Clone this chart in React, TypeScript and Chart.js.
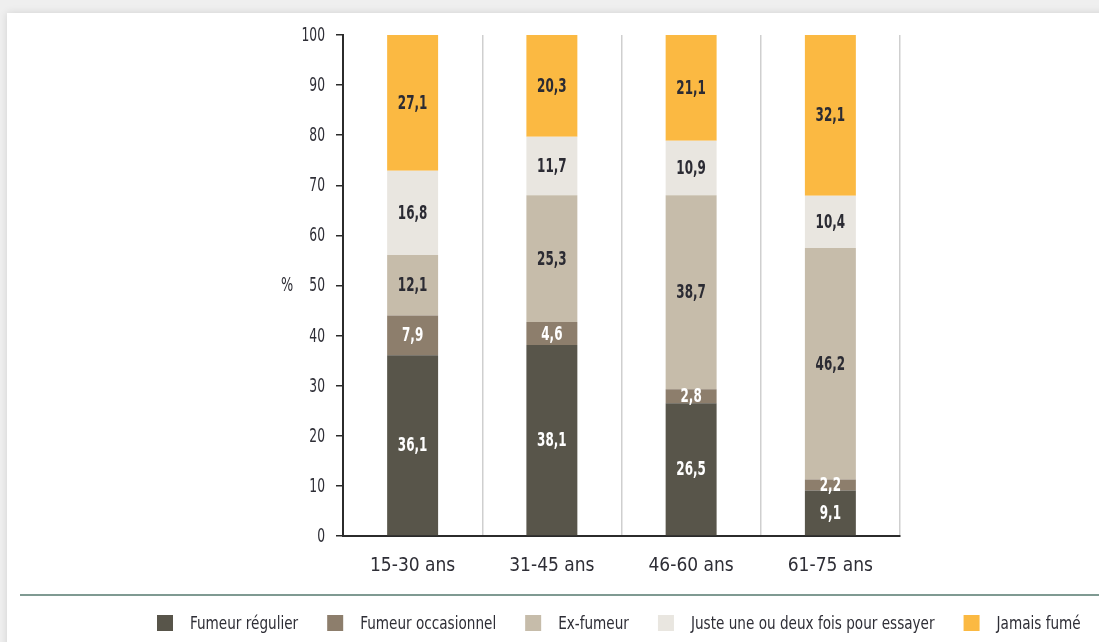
import { useEffect, useRef } from "react";
import { Chart, registerables } from "chart.js";

Chart.register(...registerables);

// Age groups on the x axis
const ageGroups = ["15-30 ans", "31-45 ans", "46-60 ans", "61-75 ans"];

// Share of each smoking status per age group (%)
const regularSmoker = [36.1, 38.1, 26.5, 9.1];
const occasionalSmoker = [7.9, 4.6, 2.8, 2.2];
const formerSmoker = [12.1, 25.3, 38.7, 46.2];
const triedOnceOrTwice = [16.8, 11.7, 10.9, 10.4];
const neverSmoked = [27.1, 20.3, 21.1, 32.1];

const seriesNames = [
  "Fumeur régulier",
  "Fumeur occasionnel",
  "Ex-fumeur",
  "Juste une ou deux fois pour essayer",
  "Jamais fumé",
];
const seriesColors = ["#58554a", "#8d7e6c", "#c6bcaa", "#e9e6e0", "#fbb942"];
const labelColors = ["#ffffff", "#ffffff", "#2b2b33", "#2b2b33", "#2b2b33"];

const yMin = 0;
const yMax = 100;
const yStep = 10;

const FONT = '"Liberation Sans Narrow", "DejaVu Sans Condensed", "Noto Sans", sans-serif';
const TEXT = "#2e2e36";

function drawSqueezed(
  ctx: CanvasRenderingContext2D,
  text: string,
  x: number,
  y: number,
  sx: number
) {
  ctx.save();
  ctx.translate(x, y);
  ctx.scale(sx, 1);
  ctx.fillText(text, 0, 0);
  ctx.restore();
}

const pageBackground = {
  id: "pageBackground",
  beforeDraw(chart: any) {
    const { ctx, width, height } = chart;
    ctx.save();
    ctx.fillStyle = "#efefef";
    ctx.fillRect(0, 0, width, height);
    ctx.shadowColor = "rgba(0,0,0,0.12)";
    ctx.shadowBlur = 8;
    ctx.fillStyle = "#ffffff";
    ctx.fillRect(7, 13, width + 20, height + 20);
    ctx.restore();
  },
};

// narrow, tall value-axis labels drawn at the scale's own tick positions
const valueAxisLabels = {
  id: "valueAxisLabels",
  afterDraw(chart: any) {
    const { ctx } = chart;
    const yScale = chart.scales.y;
    ctx.save();
    ctx.fillStyle = TEXT;
    ctx.font = `19px ${FONT}`;
    ctx.textAlign = "right";
    ctx.textBaseline = "middle";
    yScale.ticks.forEach((t: any) => {
      const py = yScale.getPixelForValue(t.value);
      drawSqueezed(ctx, String(t.value), yScale.right - 18, py + 1, 0.72);
    });
    ctx.restore();
  },
};

const barValues = {
  id: "barValues",
  afterDatasetsDraw(chart: any) {
    const { ctx } = chart;
    ctx.save();
    ctx.font = `bold 19px ${FONT}`;
    ctx.textAlign = "center";
    ctx.textBaseline = "middle";
    chart.data.datasets.forEach((ds: any, di: number) => {
      const meta = chart.getDatasetMeta(di);
      meta.data.forEach((bar: any, i: number) => {
        const v = ds.data[i] as number;
        const cy = (bar.y + bar.base) / 2;
        ctx.fillStyle = labelColors[di];
        drawSqueezed(ctx, v.toFixed(1).replace(".", ","), bar.x, cy + 1, 0.7);
      });
    });
    ctx.restore();
  },
};

const sideDecor = {
  id: "sideDecor",
  afterDraw(chart: any) {
    const { ctx, chartArea, width } = chart;
    const yScale = chart.scales.y;
    ctx.save();

    // "%" unit next to the value axis
    ctx.fillStyle = TEXT;
    ctx.font = `19px ${FONT}`;
    ctx.textAlign = "center";
    ctx.textBaseline = "middle";
    drawSqueezed(ctx, "%", chartArea.left - 56, yScale.getPixelForValue(50) + 1, 0.75);

    // rule above the legend
    const ruleY = 595;
    ctx.strokeStyle = "#7f9a92";
    ctx.lineWidth = 2;
    ctx.beginPath();
    ctx.moveTo(20, ruleY);
    ctx.lineTo(width, ruleY);
    ctx.stroke();

    // legend row
    ctx.font = `18px ${FONT}`;
    ctx.textAlign = "left";
    ctx.textBaseline = "middle";
    const rowY = 623;
    const box = 16;
    const sx = 0.84;
    let x = 157;
    chart.data.datasets.forEach((ds: any) => {
      ctx.fillStyle = ds.backgroundColor;
      ctx.fillRect(x, rowY - box / 2, box, box);
      x += box + 17;
      ctx.fillStyle = TEXT;
      drawSqueezed(ctx, ds.label, x, rowY + 1, sx);
      x += ctx.measureText(ds.label).width * sx + 29;
    });
    ctx.restore();
  },
};

export default function App() {
  const canvasRef = useRef<HTMLCanvasElement | null>(null);

  useEffect(() => {
    document.body.style.margin = "0";
    document.body.style.overflow = "hidden";
    const canvas = canvasRef.current;
    if (!canvas) return;
    const values = [regularSmoker, occasionalSmoker, formerSmoker, triedOnceOrTwice, neverSmoked];
    const chart = new Chart(canvas, {
      type: "bar",
      data: {
        labels: ageGroups,
        datasets: values.map((data, i) => ({
          label: seriesNames[i],
          data,
          backgroundColor: seriesColors[i],
          borderWidth: 0,
          categoryPercentage: 1,
          barPercentage: 0.366,
        })),
      },
      options: {
        responsive: false,
        animation: false,
        devicePixelRatio: 1,
        layout: { padding: { left: 0, right: 199, top: 35, bottom: 0 } },
        plugins: {
          legend: { display: false },
          tooltip: { enabled: false },
        },
        scales: {
          x: {
            stacked: true,
            afterFit: (scale: any) => {
              scale.height = 106;
            },
            grid: {
              display: true,
              offset: true,
              drawTicks: false,
              color: "#cfcfcf",
              lineWidth: 1.5,
            },
            border: { display: true, color: "#2b2b2b", width: 2 },
            ticks: {
              color: TEXT,
              padding: 19,
              font: { family: FONT, size: 19 },
            },
          },
          y: {
            stacked: true,
            min: yMin,
            max: yMax,
            afterFit: (scale: any) => {
              scale.width = 343;
            },
            grid: {
              drawOnChartArea: false,
              drawTicks: true,
              tickLength: 7,
              color: "#2b2b2b",
              lineWidth: 1.5,
            },
            border: { display: true, color: "#2b2b2b", width: 2 },
            ticks: {
              stepSize: yStep,
              display: false,
            },
          },
        },
      },
      plugins: [pageBackground, barValues, valueAxisLabels, sideDecor],
    });
    return () => chart.destroy();
  }, []);

  return <canvas ref={canvasRef} width={1099} height={642} style={{ display: "block" }} />;
}
